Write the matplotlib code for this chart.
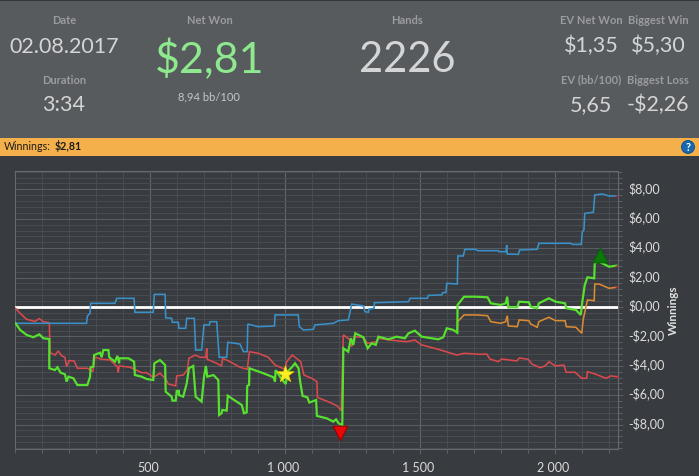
import matplotlib
matplotlib.use("Agg")
import matplotlib.pyplot as plt
import numpy as np
from matplotlib.patches import Rectangle, Circle
from matplotlib.ticker import MultipleLocator
from matplotlib.transforms import ScaledTranslation

plt.rcParams['font.family'] = ['Lato', 'DejaVu Sans']

x_ticks = [500, 1000, 1500, 2000]
x_tick_labels = ['500', '1 000', '1 500', '2 000']
y_ticks = [-8, -6, -4, -2, 0, 2, 4, 6, 8]
y_tick_labels = ['-$8,00', '-$6,00', '-$4,00', '-$2,00', '$0,00', '$2,00', '$4,00', '$6,00', '$8,00']

net_h = [2,19,43,68,90,105,127,127,148,157,169,185,191,198,216,231,268,278,280,290,293,315,321,327,346,349,370,379,386,386,420,441,444,469,488,512,516,537,556,558,580,583,595,599,607,607,623,636,644,660,669,691,700,707,712,735,753,756,765,768,784,788,802,840,848,858,860,867,868,920,957,963,965,990,1003,1009,1025,1037,1050,1056,1065,1083,1090,1115,1118,1154,1179,1189,1198,1212,1216,1234,1244,1253,1260,1290,1296,1306,1321,1336,1346,1383,1413,1444,1457,1481,1506,1568,1586,1599,1623,1638,1639,1663,1706,1750,1762,1799,1817,1823,1827,1860,1867,1903,1910,1934,1940,1977,2002,2037,2042,2077,2095,2101,2110,2120,2145,2147,2163,2200,2227]
net_v = [-1.11,-1.56,-1.90,-2.06,-1.86,-2.13,-2.18,-4.17,-4.29,-4.10,-4.47,-4.58,-5.08,-4.74,-4.85,-5.31,-5.31,-4.74,-4.10,-4.06,-3.27,-3.11,-3.42,-2.93,-2.93,-3.42,-3.72,-3.33,-3.83,-3.49,-3.49,-3.72,-4.63,-4.74,-4.90,-4.97,-3.83,-3.61,-3.95,-5.76,-6.10,-6.37,-6.37,-5.71,-5.71,-5.99,-6.10,-5.19,-4.17,-4.01,-6.10,-6.44,-4.74,-4.01,-4.74,-4.63,-4.97,-7.35,-7.23,-7.0,-7.05,-6.03,-6.21,-6.67,-7.23,-7.17,-5.37,-5.3,-4.17,-4.51,-4.78,-5.08,-4.29,-4.97,-5.24,-4.4,-4.1,-3.83,-4.17,-5.08,-6.05,-6.15,-6.5,-6.33,-7.41,-7.57,-7.8,-7.64,-7.91,-8.03,-2.81,-3.04,-2.13,-2.58,-1.79,-2.06,-2.36,-2.81,-2.47,-2.58,-2.02,-2.2,-2.02,-2.13,-1.79,-1.61,-2.02,-2.2,-2.06,-1.45,-1.56,-1.75,0.14,0.7,0.7,0.66,0.25,0.14,0.25,0.7,-0.02,-0.02,0.36,0.32,0.02,-0.09,0.25,0.59,0.36,0.25,-0.09,-0.2,-0.54,0.36,1.5,2.02,1.95,3.02,3.08,2.74,2.81]

ev_h = [1638,1639,1663,1706,1750,1762,1799,1817,1823,1827,1860,1867,1903,1910,1934,1940,1977,2002,2037,2042,2077,2099,2104,2120,2145,2147,2163,2200,2227]
ev_v = [-1.75,-1.0,-0.54,-0.54,-0.59,-1.0,-1.11,-1.0,-0.59,-1.29,-1.34,-0.88,-0.93,-1.16,-1.38,-1.0,-0.7,-0.93,-0.93,-1.34,-1.38,-1.79,-0.88,0.48,0.43,1.56,1.56,1.27,1.34]

showdown_h = [2,19,43,74,90,105,127,130,148,160,173,185,191,200,219,231,268,288,296,321,352,379,382,386,426,444,469,488,512,537,556,568,595,599,623,638,644,667,685,707,710,712,747,765,769,796,833,860,868,901,938,963,1000,1006,1027,1058,1070,1099,1118,1120,1167,1194,1208,1216,1238,1247,1256,1290,1305,1340,1346,1389,1450,1481,1506,1568,1636,1663,1722,1747,1759,1790,1802,1833,1858,1868,1901,1914,1945,1963,1978,2000,2033,2041,2074,2099,2117,2120,2148,2189,2206,2231]
showdown_v = [-0.09,-0.43,-0.84,-0.98,-0.79,-1.0,-1.07,-3.11,-3.27,-2.99,-3.33,-3.42,-4.06,-3.65,-3.67,-4.17,-4.17,-4.4,-3.42,-3.56,-3.6,-4.06,-4.47,-4.01,-4.1,-4.24,-4.47,-4.47,-4.78,-4.51,-4.85,-5.24,-5.37,-4.69,-4.63,-4.29,-3.49,-3.27,-3.42,-3.42,-2.81,-3.56,-3.83,-4.01,-3.49,-3.72,-4.1,-4.24,-3.04,-3.15,-3.42,-3.95,-4.24,-3.72,-3.27,-3.72,-4.63,-4.85,-5.08,-6.15,-6.5,-6.73,-7.05,-1.9,-2.2,-2.7,-2.02,-2.06,-2.47,-2.36,-2.13,-2.25,-2.36,-2.25,-2.58,-2.88,-3.27,-3.15,-3.22,-3.2,-3.54,-3.72,-3.54,-3.61,-3.67,-3.47,-3.56,-3.88,-4.13,-4.01,-3.72,-4.01,-3.95,-4.44,-4.44,-4.85,-4.85,-4.4,-4.56,-4.85,-4.69,-4.74]

nonshowdown_h = [2,265,268,278,280,370,377,441,444,512,516,556,558,580,583,605,607,632,636,664,669,691,700,720,722,747,756,784,788,833,846,860,862,901,961,963,1049,1053,1068,1105,1111,1179,1198,1234,1240,1247,1290,1296,1309,1311,1330,1331,1457,1463,1527,1531,1580,1584,1596,1599,1638,1640,1660,1666,1707,1712,1790,1792,1818,1821,1823,1864,1869,1934,1940,2058,2064,2097,2101,2107,2110,2142,2147,2175,2200,2227]
nonshowdown_v = [-1.11,-1.11,-0.61,-0.43,0.25,0.25,0.59,0.59,-0.36,-0.36,0.86,0.86,-0.73,-0.77,-1.04,-1.04,-1.45,-1.45,-0.77,-0.77,-2.93,-2.93,-1.22,-1.22,-1.0,-1.0,-3.42,-3.42,-2.4,-2.52,-3.04,-3.04,-1.16,-1.34,-1.29,-0.54,-0.54,-1.34,-1.56,-1.52,-1.22,-1.11,-0.93,-0.88,-0.43,0.2,0.07,-0.32,-0.36,-0.14,-0.09,0.29,0.36,0.59,0.59,0.79,0.82,0.98,0.98,1.61,1.56,3.47,3.47,3.92,3.92,3.83,3.83,3.76,3.76,4.22,3.6,3.58,3.88,3.92,4.33,4.33,4.26,4.26,5.12,5.24,6.37,6.44,7.62,7.69,7.55,7.55]

best = (2166, 3.54)
worst = (1204, -8.55)
star = (1001, -4.58)

W, H = 699, 476
fig = plt.figure(figsize=(W/100, H/100), dpi=100, facecolor='#383b3f')

bg = fig.add_axes([0, 0, 1, 1], zorder=0)
bg.set_xlim(0, W); bg.set_ylim(H, 0); bg.axis('off')
bg.add_patch(Rectangle((0, 0), W, 138, fc='#585b5e', ec='none', zorder=1))
bg.add_patch(Rectangle((0, 0), W, 1.2, fc='#33363a', ec='none', zorder=2))
bg.add_patch(Rectangle((0, 138), W, 18, fc='#f4b04a', ec='none', zorder=2))
bg.add_patch(Circle((688, 147), 6.5, fc='#1668b0', ec='#0d4a85', lw=0.6, zorder=3))
bg.text(688, 147.3, '?', color='white', fontsize=8, fontweight='bold', ha='center', va='center', zorder=4)

def t(x, y, s, size, color, **kw):
    bg.text(x, y, s, fontsize=size, color=color, ha='center', va='center', zorder=5, **kw)

lab = '#9a9c9f'
val = '#d4d5d6'
t(64, 21, 'Date', 8, lab, fontweight='bold')
t(64, 47, '02.08.2017', 15.5, val)
t(64, 80, 'Duration', 8, lab, fontweight='bold')
t(64, 105, '3:34', 15.5, val)
t(210, 21, 'Net Won', 8, lab, fontweight='bold')
t(210, 60, '$2,81', 31, '#8ee88e')
t(209, 97, '8,94 bb/100', 8, '#c4c6c8')
t(407, 21, 'Hands', 8, lab, fontweight='bold')
t(407, 60, '2226', 30, val)
t(591, 21, 'EV Net Won', 8, lab, fontweight='bold')
t(658, 21, 'Biggest Win', 8, lab, fontweight='bold')
t(591, 46, '$1,35', 15.5, val)
t(658, 46, '$5,30', 15.5, val)
t(591, 80, 'EV (bb/100)', 8, lab, fontweight='bold')
t(658, 80, 'Biggest Loss', 8, lab, fontweight='bold')
t(591, 105, '5,65', 15.5, val)
t(658, 105, '-$2,26', 15.5, val)
bg.text(4, 146.5, 'Winnings:', fontsize=7.7, color='#1c1c1c', ha='left', va='center', zorder=5)
bg.text(55, 146.5, '$2,81', fontsize=7.7, color='#1c1c1c', fontweight='bold', ha='left', va='center', zorder=5)

left, right, top, bottom = 15, 617.7, 171, 449
ax = fig.add_axes([left/W, 1-bottom/H, (right-left)/W, (bottom-top)/H], zorder=2)
ax.set_facecolor('#383b3f')
ax.set_xlim(0, 2232)
ax.set_ylim(-9.66, 9.25)

ax.set_xticks(x_ticks, x_tick_labels)
ax.set_yticks(y_ticks, y_tick_labels)
ax.xaxis.set_minor_locator(MultipleLocator(100))
ax.yaxis.set_minor_locator(MultipleLocator(0.4))
ax.yaxis.tick_right()
ax.grid(which='major', axis='x', color='#626569', lw=0.8)
ax.grid(which='major', axis='y', color='#595c60', lw=0.8)
ax.grid(which='minor', color='#484b4f', lw=0.72)
ax.set_axisbelow(True)
ax.tick_params(which='major', colors='#dcdcdc', color='#5c5f63', labelsize=9, length=3.6, width=0.8)
ax.tick_params(which='minor', color='#5c5f63', length=3, width=0.72)
ax.tick_params(axis='y', which='major', pad=3.8)
ax.tick_params(axis='x', which='major', pad=6.4)
for s in ['top', 'left', 'right', 'bottom']:
    ax.spines[s].set_color('#66696d')
    ax.spines[s].set_linewidth(0.8)

dpi_tr = fig.dpi_scale_trans
for lbl in ax.get_yticklabels():
    lbl.set_horizontalalignment('left')
    lbl.set_transform(lbl.get_transform() + ScaledTranslation(0, 2/100, dpi_tr))
for lbl in ax.get_xticklabels():
    lbl.set_transform(lbl.get_transform() + ScaledTranslation(-2/100, 1/100, dpi_tr))

ax.axhline(0, color='white', lw=2.0, zorder=3)
ax.plot(showdown_h, showdown_v, color='#d9494e', lw=1.15, zorder=4, solid_joinstyle='miter')
ax.plot(nonshowdown_h, nonshowdown_v, color='#3a90c8', lw=1.15, zorder=4, solid_joinstyle='miter')
ax.plot(ev_h, ev_v, color='#d98a35', lw=1.15, zorder=4, solid_joinstyle='miter')
ax.plot(net_h, net_v, color='#57e030', lw=1.6, zorder=5, solid_joinstyle='miter')
ends_x = [net_h[-1], ev_h[-1], nonshowdown_h[-1], showdown_h[-1]]
ends_y = [net_v[-1], ev_v[-1], nonshowdown_v[-1], showdown_v[-1]]
ax.scatter(ends_x, ends_y, s=2, color='#e01030', zorder=6, linewidths=0)
ax.scatter(*best, marker='^', s=110, color='#0b7a0b', edgecolors='#0a5f0a', linewidths=0.8, zorder=7)
ax.scatter(*worst, marker='v', s=110, color='#e80808', edgecolors='#a00000', linewidths=0.8, zorder=7)
ax.scatter(*star, marker='*', s=170, color='#ffee22', edgecolors='#e8d000', linewidths=0.4, zorder=7)

fig.text(673/W, 1-310/H, 'Winnings', rotation=90, color='#e0e0e0', fontsize=8.5, fontweight='bold', ha='center', va='center', zorder=6)

fig.savefig('out.png', dpi=100, facecolor=fig.get_facecolor())
